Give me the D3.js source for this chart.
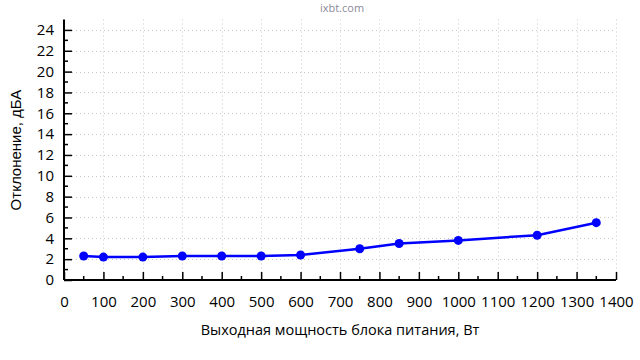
<!DOCTYPE html>
<html><head><meta charset="utf-8">
<script src="https://cdn.jsdelivr.net/npm/d3@7"></script>
<style>body{margin:0;background:#fff}svg{display:block}</style>
</head><body>
<svg id="c" width="640" height="360"></svg>
<script>
const power = [50, 100, 200, 300, 400, 500, 600, 750, 850, 1000, 1200, 1350];
const deviation = [2.3, 2.2, 2.2, 2.3, 2.3, 2.3, 2.4, 3.0, 3.5, 3.8, 4.3, 5.5];
const xTicks = [0,100,200,300,400,500,600,700,800,900,1000,1100,1200,1300,1400];
const yTicks = [0,2,4,6,8,10,12,14,16,18,20,22,24];
const xMinor = [50,150,250,350,450,550,650,750,850,950,1050,1150,1250,1350];
const yMinor = [1,3,5,7,9,11,13,15,17,19,21,23];
const xTitle = "Выходная мощность блока питания, Вт";
const yTitle = "Отклонение, дБА";
const watermark = "ixbt.com";

const svg = d3.select("#c");
const L = 64, R = 616, T = 19.5, B = 280;
const x = d3.scaleLinear().domain([0,1400]).range([L,R]);
const y = d3.scaleLinear().domain([0,25]).range([B,T]);
const tf = "'Open Sans', 'Noto Sans', sans-serif";

// grid
const g = svg.append("g");
g.selectAll("line.hg").data(yTicks.filter(d=>d>0)).join("line")
  .attr("x1",L).attr("x2",R).attr("y1",d=>Math.round(y(d))+0.5).attr("y2",d=>Math.round(y(d))+0.5)
  .attr("stroke","#c8c8c8").attr("stroke-dasharray","1,3");
g.selectAll("line.vg").data(xTicks.filter(d=>d>0)).join("line")
  .attr("y1",T).attr("y2",B).attr("x1",d=>Math.round(x(d))+0.5).attr("x2",d=>Math.round(x(d))+0.5)
  .attr("stroke","#c8c8c8").attr("stroke-dasharray","1,3");

// axes
const xAxis = d3.axisBottom(x).tickValues(xTicks).tickSize(-8).tickPadding(16).tickFormat(d3.format("d"));
const yAxis = d3.axisLeft(y).tickValues(yTicks).tickSize(-8).tickPadding(10).tickFormat(d3.format("d"));
const xa = svg.append("g").attr("transform",`translate(0,${B})`).call(xAxis);
const ya = svg.append("g").attr("transform",`translate(${L},0)`).call(yAxis);
[xa,ya].forEach(a=>{
  a.select(".domain").remove();
  a.selectAll(".tick line").attr("stroke","#000").attr("stroke-width",1.5);
  a.selectAll("text").attr("font-family",tf).attr("font-size",15).attr("fill","#000");
});
svg.selectAll(".xminor").data(xMinor).join("line")
  .attr("x1",d=>x(d)).attr("x2",d=>x(d)).attr("y1",B).attr("y2",B-4)
  .attr("stroke","#000").attr("stroke-width",1.5);
svg.selectAll(".yminor").data(yMinor).join("line")
  .attr("y1",d=>y(d)).attr("y2",d=>y(d)).attr("x1",L).attr("x2",L+4)
  .attr("stroke","#000").attr("stroke-width",1.5);
svg.append("line").attr("x1",L).attr("x2",R).attr("y1",B).attr("y2",B).attr("stroke","#000").attr("stroke-width",2);
svg.append("line").attr("x1",L).attr("x2",L).attr("y1",T).attr("y2",B).attr("stroke","#000").attr("stroke-width",2);

// series
const pts = power.map((p,i)=>[p,deviation[i]]);
svg.append("path").datum(pts)
  .attr("d", d3.line().x(d=>x(d[0])).y(d=>y(d[1])))
  .attr("fill","none").attr("stroke","#0000ff").attr("stroke-width",2.5);
svg.selectAll("circle.p").data(pts).join("circle")
  .attr("cx",d=>x(d[0])).attr("cy",d=>y(d[1])).attr("r",4.5).attr("fill","#0000ff");

// titles
svg.append("text").attr("x",340).attr("y",335).attr("text-anchor","middle")
  .attr("font-family",tf).attr("font-size",14.5).attr("fill","#000").text(xTitle);
svg.append("text").attr("transform",`translate(21,150) rotate(-90)`).attr("text-anchor","middle")
  .attr("font-family","'Liberation Sans', Arial, sans-serif").attr("font-size",15).attr("fill","#000").text(yTitle);
svg.append("text").attr("x",342).attr("y",12).attr("text-anchor","middle")
  .attr("font-family",tf).attr("font-size",11).attr("fill","#8a8a9a").text(watermark);
</script>
</body></html>
